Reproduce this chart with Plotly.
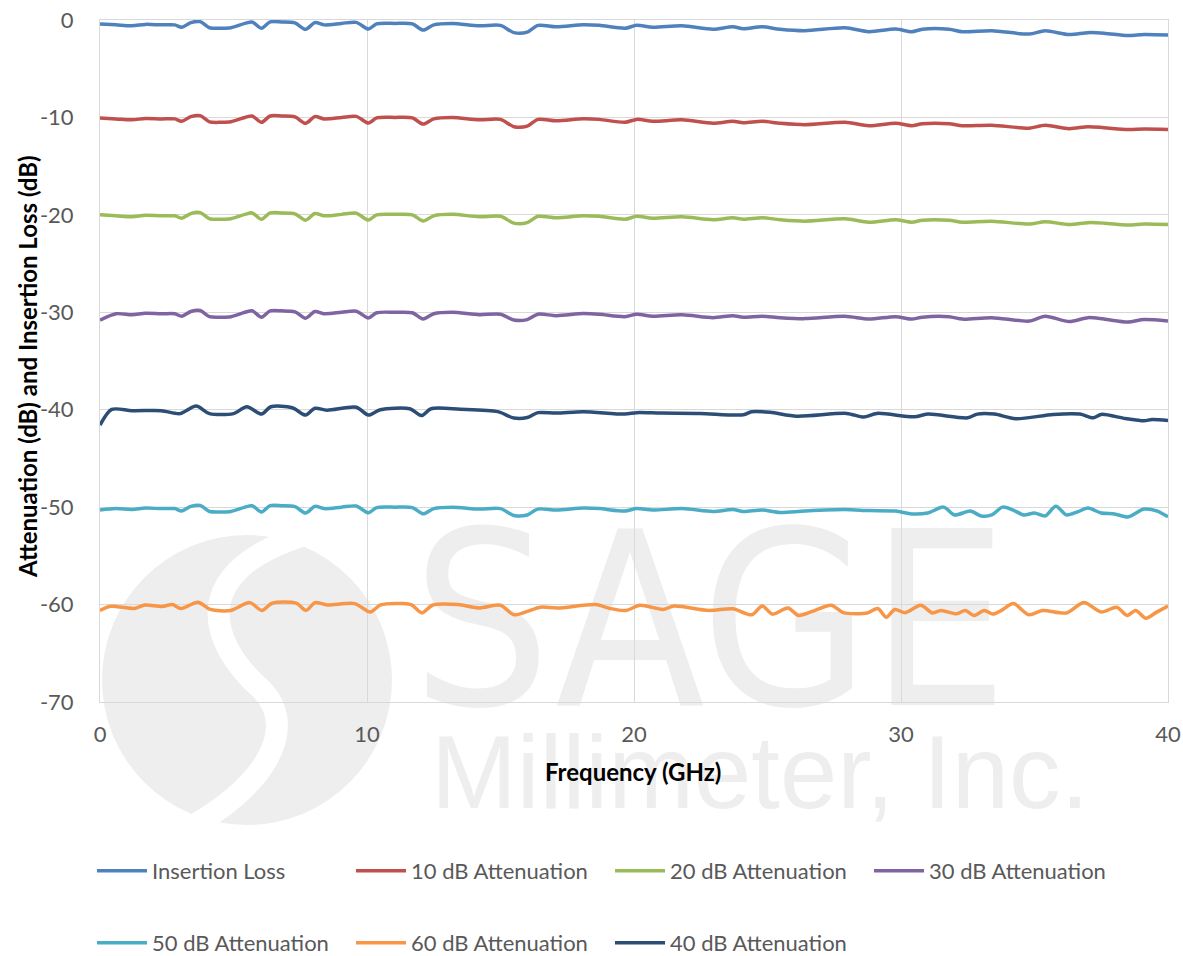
import plotly.graph_objects as go

# ---------------- data ----------------
freq_main = [0, 0.6, 1.2, 1.7, 2.3, 2.8, 3.06, 3.4, 3.75, 4.1, 4.55, 4.9, 5.43, 5.7, 6.05, 6.37,
             6.8, 7.3, 7.7, 8.05, 8.4, 9.05, 9.6, 10.05, 10.36, 11.05, 11.7, 12.1, 12.5, 13.2,
             14.2, 15.0, 15.5, 16.0, 16.4, 17.1, 18.1, 18.7, 19.66, 20.1, 20.7, 21.8, 22.96,
             23.7, 24.1, 24.8, 25.47, 26.4, 27.9, 28.8, 29.8, 30.4, 30.8, 31.8, 32.3, 33.4,
             34.8, 35.4, 36.3, 37.0, 37.6, 38.5, 39.1, 40.0]

insertion_loss = [-0.40, -0.50, -0.60, -0.45, -0.50, -0.50, -0.75, -0.27, -0.17, -0.80, -0.85, -0.80,
                  -0.35, -0.20, -0.85, -0.20, -0.20, -0.30, -0.95, -0.27, -0.50, -0.35, -0.24, -0.93,
                  -0.40, -0.35, -0.40, -1.03, -0.50, -0.35, -0.60, -0.55, -1.30, -1.25, -0.55, -0.70,
                  -0.48, -0.55, -0.85, -0.55, -0.75, -0.60, -0.95, -0.70, -0.90, -0.70, -0.95, -1.10,
                  -0.80, -1.20, -0.93, -1.20, -0.95, -0.95, -1.20, -1.10, -1.44, -1.10, -1.50, -1.30,
                  -1.35, -1.60, -1.50, -1.55]

att10 = [-10.05, -10.15, -10.25, -10.10, -10.15, -10.15, -10.40, -9.92, -9.82, -10.45, -10.50, -10.45,
         -10.00, -9.85, -10.50, -9.85, -9.85, -9.95, -10.60, -9.92, -10.15, -10.00, -9.89, -10.58,
         -10.05, -10.00, -10.05, -10.68, -10.15, -10.00, -10.25, -10.20, -10.95, -10.90, -10.20, -10.35,
         -10.13, -10.20, -10.50, -10.20, -10.40, -10.25, -10.60, -10.40, -10.55, -10.40, -10.60, -10.75,
         -10.50, -10.85, -10.60, -10.85, -10.65, -10.65, -10.85, -10.80, -11.10, -10.80, -11.15, -10.95,
         -11.05, -11.25, -11.20, -11.25]

att20 = [-20.00, -20.10, -20.20, -20.05, -20.10, -20.10, -20.35, -19.87, -19.77, -20.40, -20.45, -20.40,
         -19.95, -19.80, -20.45, -19.80, -19.80, -19.90, -20.55, -19.87, -20.10, -19.95, -19.84, -20.53,
         -20.00, -19.95, -20.00, -20.63, -20.10, -19.95, -20.20, -20.15, -20.85, -20.80, -20.15, -20.30,
         -20.08, -20.15, -20.45, -20.15, -20.35, -20.20, -20.50, -20.30, -20.45, -20.30, -20.50, -20.65,
         -20.40, -20.75, -20.50, -20.75, -20.55, -20.55, -20.75, -20.65, -20.95, -20.70, -21.00, -20.80,
         -20.85, -21.05, -20.95, -21.00]

att30 = [-30.80, -30.15, -30.25, -30.10, -30.15, -30.15, -30.40, -29.92, -29.82, -30.45, -30.50, -30.45,
         -30.00, -29.85, -30.50, -29.85, -29.85, -29.95, -30.60, -29.92, -30.15, -30.00, -29.89, -30.58,
         -30.05, -30.00, -30.05, -30.68, -30.15, -30.00, -30.25, -30.20, -30.80, -30.75, -30.20, -30.35,
         -30.13, -30.20, -30.45, -30.20, -30.40, -30.25, -30.55, -30.35, -30.50, -30.40, -30.55, -30.65,
         -30.40, -30.70, -30.45, -30.70, -30.50, -30.45, -30.70, -30.55, -30.90, -30.40, -30.95, -30.55,
         -30.70, -31.00, -30.75, -30.90]

freq_40 = [0, 0.44, 1.2, 2.3, 3.0, 3.6, 4.1, 5.0, 5.5, 6.05, 6.4, 7.2, 7.7, 8.05, 8.5, 9.6, 10.05, 10.5,
           11.6, 12.04, 12.4, 13.5, 14.9, 15.5, 16.0, 16.4, 17.1, 18.1, 19.66, 20.1, 21.0, 22.47, 24.1,
           24.4, 25.1, 26.1, 27.97, 28.6, 29.1, 30.5, 31.0, 32.5, 32.86, 33.5, 34.3, 35.7, 36.7, 37.2,
           37.5, 38.4, 39.1, 39.4, 40.0]
att40 = [-41.58, -39.97, -40.10, -40.10, -40.40, -39.63, -40.40, -40.40, -39.70, -40.45, -39.70, -39.80,
         -40.55, -39.85, -40.05, -39.75, -40.55, -40.00, -39.90, -40.60, -39.90, -39.95, -40.20, -40.85,
         -40.80, -40.30, -40.35, -40.20, -40.45, -40.30, -40.35, -40.38, -40.52, -40.21, -40.27, -40.66,
         -40.38, -40.76, -40.38, -40.73, -40.45, -40.83, -40.45, -40.45, -40.93, -40.48, -40.45, -40.83,
         -40.48, -40.90, -41.14, -41.00, -41.10]

freq_50 = [0, 0.6, 1.2, 1.7, 2.3, 2.8, 3.06, 3.4, 3.75, 4.1, 4.55, 4.9, 5.43, 5.7, 6.05, 6.37,
           6.8, 7.3, 7.7, 8.05, 8.4, 9.05, 9.6, 10.05, 10.36, 11.05, 11.7, 12.1, 12.5, 13.2,
           14.2, 15.0, 15.5, 16.0, 16.4, 17.1, 18.1, 18.7, 19.66, 20.1, 20.7, 21.8, 22.96,
           23.7, 24.1, 24.8, 25.47, 26.4, 27.9, 28.8, 29.8, 30.4, 31.0, 31.6, 32.0, 32.6, 33.0,
           33.4, 33.8, 34.2, 34.6, 35.0, 35.4, 35.8, 36.2, 36.6, 37.0, 37.5, 38.0, 38.5, 39.1,
           39.6, 40.0]
att50 = [-50.30, -50.15, -50.25, -50.10, -50.15, -50.15, -50.40, -49.92, -49.82, -50.45, -50.50, -50.45,
         -50.00, -49.85, -50.50, -49.85, -49.85, -49.95, -50.60, -49.92, -50.15, -50.00, -49.89, -50.58,
         -50.05, -50.00, -50.05, -50.68, -50.15, -50.00, -50.20, -50.15, -50.85, -50.80, -50.20, -50.30,
         -50.10, -50.15, -50.40, -50.15, -50.30, -50.15, -50.45, -50.25, -50.45, -50.30, -50.55, -50.40,
         -50.25, -50.35, -50.40, -50.70, -50.60, -50.00, -50.80, -50.40, -50.90, -50.80, -50.00, -50.30,
         -50.80, -50.60, -50.90, -49.90, -50.80, -50.50, -50.10, -50.60, -50.70, -51.00, -50.20, -50.40,
         -51.00]

freq_60 = [0, 0.39, 1.29, 1.68, 2.32, 2.71, 3.03, 3.67, 4.13, 4.9, 5.61, 6.06, 6.45, 7.35, 7.71, 8.06,
           8.51, 9.54, 10.12, 10.51, 11.35, 11.67, 12.06, 12.45, 13.4, 14.2, 15.0, 15.5, 16.0, 16.5,
           17.15, 18.57, 19.1, 19.7, 20.22, 21.1, 21.5, 22.8, 23.7, 24.41, 24.8, 25.19, 25.77, 26.16,
           26.68, 27.39, 27.84, 28.74, 29.13, 29.45, 29.77, 30.16, 30.74, 31.18, 31.5, 32.08, 32.41,
           32.73, 33.12, 33.44, 33.76, 34.21, 34.79, 35.3, 36.2, 36.85, 37.5, 38.08, 38.47, 38.79,
           39.17, 39.56, 40.0]
att60 = [-60.60, -60.17, -60.40, -60.04, -60.20, -60.00, -60.40, -59.76, -60.50, -60.60, -59.80, -60.60,
         -59.86, -59.86, -60.60, -59.80, -60.04, -59.90, -60.76, -60.04, -59.90, -60.04, -60.86, -60.07,
         -60.00, -60.35, -60.07, -61.05, -60.70, -60.27, -60.35, -60.00, -60.40, -60.60, -60.07, -60.50,
         -60.14, -60.60, -60.43, -61.05, -60.14, -60.98, -60.35, -61.12, -60.70, -60.07, -60.83, -60.86,
         -60.40, -61.30, -60.50, -60.83, -60.07, -60.86, -60.60, -60.95, -60.60, -61.12, -60.60, -60.98,
         -60.60, -59.90, -61.05, -60.60, -60.86, -59.80, -60.76, -60.27, -61.12, -60.60, -61.40, -60.80,
         -60.14]

x_tick_vals = [0, 10, 20, 30, 40]
x_tick_text = ["0", "10", "20", "30", "40"]
y_tick_vals = [0, -10, -20, -30, -40, -50, -60, -70]
y_tick_text = ["0", "-10", "-20", "-30", "-40", "-50", "-60", "-70"]

series = [
    ("Insertion Loss", freq_main, insertion_loss, "#4F81BD", "legend"),
    ("10 dB Attenuation", freq_main, att10, "#C0504D", "legend"),
    ("20 dB Attenuation", freq_main, att20, "#9BBB59", "legend"),
    ("30 dB Attenuation", freq_main, att30, "#8064A2", "legend"),
    ("50 dB Attenuation", freq_50, att50, "#4BACC6", "legend2"),
    ("60 dB Attenuation", freq_60, att60, "#F79646", "legend2"),
    ("40 dB Attenuation", freq_40, att40, "#2C4D75", "legend2"),
]

# ---------------- figure ----------------
W, H = 1183, 956
L, R, T, B = 100, 15, 20, 254
PW, PH = W - L - R, H - T - B


def px(x):
    return (x - L) / PW


def py(y):
    return (H - B - y) / PH


fig = go.Figure()
for name, fx, fy, color, leg in series:
    fig.add_trace(go.Scatter(
        x=fx, y=fy, name=name, mode="lines",
        line=dict(color=color, width=3.5, shape="spline", smoothing=0.8),
        legend=leg,
    ))

wm = "#eeeeee"
shapes = [
    dict(type="circle", xref="paper", yref="paper", layer="below",
         x0=px(102), x1=px(392), y0=py(825), y1=py(535),
         fillcolor=wm, line=dict(width=0)),
    dict(type="path", xref="paper", yref="paper", layer="below",
         path=(f"M {px(305)},{py(535)} C {px(190)},{py(570)} {px(205)},{py(640)} {px(262)},{py(690)} "
               f"C {px(300)},{py(730)} {px(262)},{py(790)} {px(185)},{py(830)}"),
         line=dict(color="white", width=22)),
    dict(type="rect", xref="paper", yref="paper", layer="below",
         x0=px(420), x1=px(1000), y0=py(712), y1=py(495),
         fillcolor="rgba(0,0,0,0)", line=dict(width=0),
         label=dict(text="SAGE", textposition="middle center",
                    font=dict(size=243, color=wm, family="DejaVu Sans Condensed, Liberation Sans"))),
    dict(type="rect", xref="paper", yref="paper", layer="below",
         x0=px(400), x1=px(1120), y0=py(810), y1=py(715),
         fillcolor="rgba(0,0,0,0)", line=dict(width=0),
         label=dict(text="Millimeter, Inc.", textposition="middle center",
                    font=dict(size=103, color=wm, family="Liberation Sans, Arial"))),
]

base_font = "Lato, Open Sans, sans-serif"
tick_font = dict(family=base_font, size=22, color="#595959")
legend_font = dict(family=base_font, size=22, color="#595959")
grid = "#d9d9d9"

fig.update_layout(
    width=W, height=H,
    margin=dict(l=L, r=R, t=T, b=B, autoexpand=False),
    paper_bgcolor="white", plot_bgcolor="rgba(0,0,0,0)",
    shapes=shapes,
    xaxis=dict(range=[0, 40], tickvals=x_tick_vals, ticktext=x_tick_text, showgrid=True,
               gridcolor=grid, gridwidth=1, zeroline=False, showline=True, linecolor=grid,
               linewidth=1, mirror=True, ticks="", tickfont=tick_font, ticklabelstandoff=13),
    yaxis=dict(range=[-70, 0], tickvals=y_tick_vals, ticktext=y_tick_text, showgrid=True,
               gridcolor=grid, gridwidth=1, zeroline=False, showline=True, linecolor=grid,
               linewidth=1, mirror=True, ticks="", tickfont=tick_font, ticklabelstandoff=21),
    legend=dict(orientation="h", x=px(92), xanchor="left", y=py(871), yanchor="middle",
                entrywidth=194, entrywidthmode="pixels", itemwidth=50,
                font=legend_font, bgcolor="rgba(0,0,0,0)", tracegroupgap=0),
    legend2=dict(orientation="h", x=px(92), xanchor="left", y=py(943), yanchor="middle",
                 entrywidth=194, entrywidthmode="pixels", itemwidth=50,
                 font=legend_font, bgcolor="rgba(0,0,0,0)", tracegroupgap=0),
    annotations=[
        dict(text="<b>Frequency (GHz)</b>", xref="paper", yref="paper", x=px(633), y=py(772),
             showarrow=False, xanchor="center", yanchor="middle",
             font=dict(family=base_font, size=24, color="black")),
        dict(text="<b>Attenuation (dB) and Insertion Loss (dB)</b>", xref="paper", yref="paper",
             x=px(27), y=py(367), textangle=-90, showarrow=False, xanchor="center", yanchor="middle",
             font=dict(family=base_font, size=24, color="black")),
    ],
)

fig.write_html(
    "out.html",
    config={"displayModeBar": False},
    post_script="document.body.style.margin='0';document.body.style.overflow='hidden';",
)
